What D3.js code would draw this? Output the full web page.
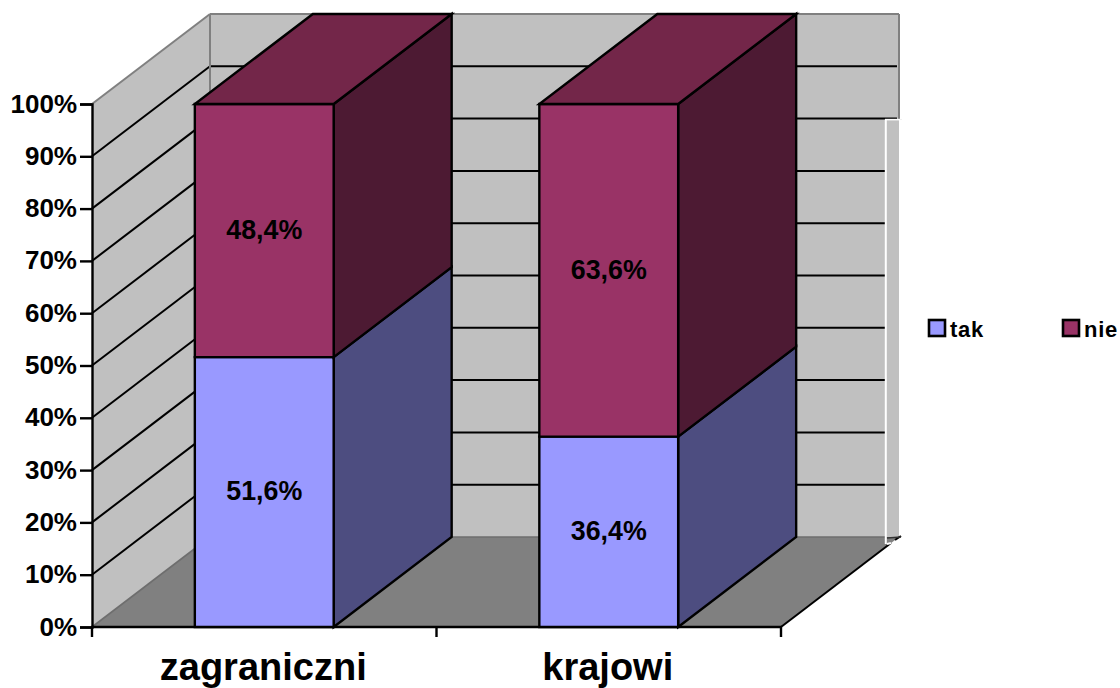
<!DOCTYPE html>
<html><head><meta charset="utf-8">
<script src="https://cdn.jsdelivr.net/npm/d3@7/dist/d3.min.js"></script>
<style>html,body{margin:0;padding:0;background:#fff}svg{display:block}text{font-family:"Liberation Sans",Arial,sans-serif;font-weight:bold;fill:#000}</style>
</head><body><svg id="c" width="1120" height="688"></svg>
<script>
const categories = ["zagraniczni","krajowi"];
const seriesNames = ["tak","nie"];
const takValues = [51.6,36.4];
const nieValues = [48.4,63.6];
const labelTak = ["51,6%","36,4%"];
const labelNie = ["48,4%","63,6%"];
const yTicks = [0,10,20,30,40,50,60,70,80,90,100];
const frontColors = ["#9999FF","#993366"];
const sideColors = ["#4D4D80","#4D1A33"];
const topColor = "#732649";

const svg = d3.select("#c");
const dx = 118, dy = -90;
const y = d3.scaleLinear().domain([0,100]).range([627,104]);
const x = d3.scaleBand().domain(categories).range([92,781]).paddingInner(0.597).paddingOuter(0.2985);
const outer = d3.scaleBand().domain(categories).range([92,781]);
const x0 = 92, x1 = 781, yb = y(0), yt = y(100);
const poly = (pts,fill,stroke,sw) => svg.append("path").attr("d","M"+pts.map(p=>p.join(",")).join("L")+"Z")
  .attr("fill",fill).attr("stroke",stroke||"none").attr("stroke-width",sw||0).attr("stroke-linejoin","miter");
const line = (a,b,c,sw) => svg.append("line").attr("x1",a[0]).attr("y1",a[1]).attr("x2",b[0]).attr("y2",b[1]).attr("stroke",c).attr("stroke-width",sw);

// walls and floor
poly([[x0+dx,yt+dy],[x1+dx,yt+dy],[x1+dx,yb+dy],[x0+dx,yb+dy]],"#C0C0C0");
poly([[x0,yt],[x0+dx,yt+dy],[x0+dx,yb+dy],[x0,yb]],"#C0C0C0");
poly([[x0,yb],[x0+dx,yb+dy],[x1+dx,yb+dy],[x1,yb]],"#808080");

// gridlines
const clipX = 885;
yTicks.forEach(t=>{
  const v=y(t);
  if(t>0 && t<100){
    line([x0,v],[x0+dx,v+dy],"#000",2);
    line([x0+dx,v+dy],[x1+dx-2,v+dy],"#000",2);
  }
});
// wall and floor borders
line([x0,yb],[x0+dx,yb+dy],"#6e6e6e",1.6);
line([x0+dx,yb+dy],[x1+dx,yb+dy],"#6e6e6e",1.6);
line([x0,yt],[x0+dx,yt+dy],"#808080",2);
line([x0+dx,yt+dy],[x0+dx,yb+dy],"#808080",2);
line([x0+dx,yt+dy],[x1+dx,yt+dy],"#808080",2);
line([x1+dx,yt+dy],[x1+dx,y(100-20)+dy+.5],"#808080",2);

// white cover strip at right side of the wall
const stripTop = y(80)+dy+1;
svg.append("rect").attr("x",clipX).attr("y",stripTop).attr("width",x1+dx+3-clipX).attr("height",yb+dy-stripTop).attr("fill","#C0C0C0");
svg.append("rect").attr("x",x1+dx).attr("y",stripTop).attr("width",4).attr("height",yb+dy-stripTop+12).attr("fill","#fff");
line([clipX,stripTop],[x1+dx+1,stripTop],"#fff",1.6);
line([clipX+.8,stripTop],[clipX+.8,yb+dy+7],"#fff",2);

// floor front edge
line([x1,yb],[x1+dx-8,yb+dy+6],"#000",2);
line([x1+dx-8,yb+dy+6],[clipX+2,yb+dy+7],"#fff",2);
line([x1+dx-4,yb+dy+3],[x1+dx+2,yb+dy-1],"#000",2);
line([clipX+2,yb+dy+1],[x1+dx+2,yb+dy],"#333",1.4);

// axes
const yAxisG = svg.append("g").attr("transform",`translate(${x0},0)`)
  .call(d3.axisLeft(y).tickValues(yTicks).tickFormat(d=>d+"%").tickSize(12).tickPadding(3));
yAxisG.select(".domain").attr("stroke","#000").attr("stroke-width",2.4);
yAxisG.selectAll(".tick line").attr("stroke","#000").attr("stroke-width",2.4);
yAxisG.selectAll("text").attr("font-size",26).attr("font-family",null).attr("font-weight",null).attr("fill","#000").attr("dy","0.31em").attr("x",-15);
const boundaries = [x0,(x0+x1)/2,x1];
svg.append("line").attr("x1",x0-1).attr("x2",x1+1).attr("y1",yb).attr("y2",yb).attr("stroke","#000").attr("stroke-width",2.4);
boundaries.forEach(b=>line([b,yb],[b,yb+10],"#000",2.4));
categories.forEach(c=>{
  svg.append("text").attr("x",outer(c)+outer.bandwidth()/2-1).attr("y",680).attr("text-anchor","middle").attr("font-size",38).text(c);
});

// bars
categories.forEach((c,i)=>{
  const bx=x(c), bw=x.bandwidth();
  let acc=0;
  [takValues[i],nieValues[i]].forEach((v,s)=>{
    const y0=y(acc), y1=y(acc+v);
    poly([[bx+bw,y0],[bx+bw+dx,y0+dy],[bx+bw+dx,y1+dy],[bx+bw,y1]],sideColors[s],"#000",2.4);
    poly([[bx,y0],[bx+bw,y0],[bx+bw,y1],[bx,y1]],frontColors[s],"#000",2.4);
    acc+=v;
  });
  const yTop=y(acc);
  poly([[bx,yTop],[bx+bw,yTop],[bx+bw+dx,yTop+dy],[bx+dx,yTop+dy]],topColor,"#000",2.4);
  acc=0;
  [[takValues[i],labelTak[i]],[nieValues[i],labelNie[i]]].forEach(([v,l])=>{
    svg.append("text").attr("x",bx+bw/2).attr("y",y(acc+v/2)).attr("dy","0.31em").attr("text-anchor","middle").attr("font-size",26.8).text(l);
    acc+=v;
  });
});

// legend
seriesNames.forEach((n,i)=>{
  const lx=[929,1063][i];
  svg.append("rect").attr("x",lx).attr("y",320).attr("width",16).attr("height",16).attr("fill",frontColors[i]).attr("stroke","#000").attr("stroke-width",2.6);
  svg.append("text").attr("x",lx+21).attr("y",337).attr("font-size",22).attr("letter-spacing",0.7).text(n);
});
</script></body></html>
